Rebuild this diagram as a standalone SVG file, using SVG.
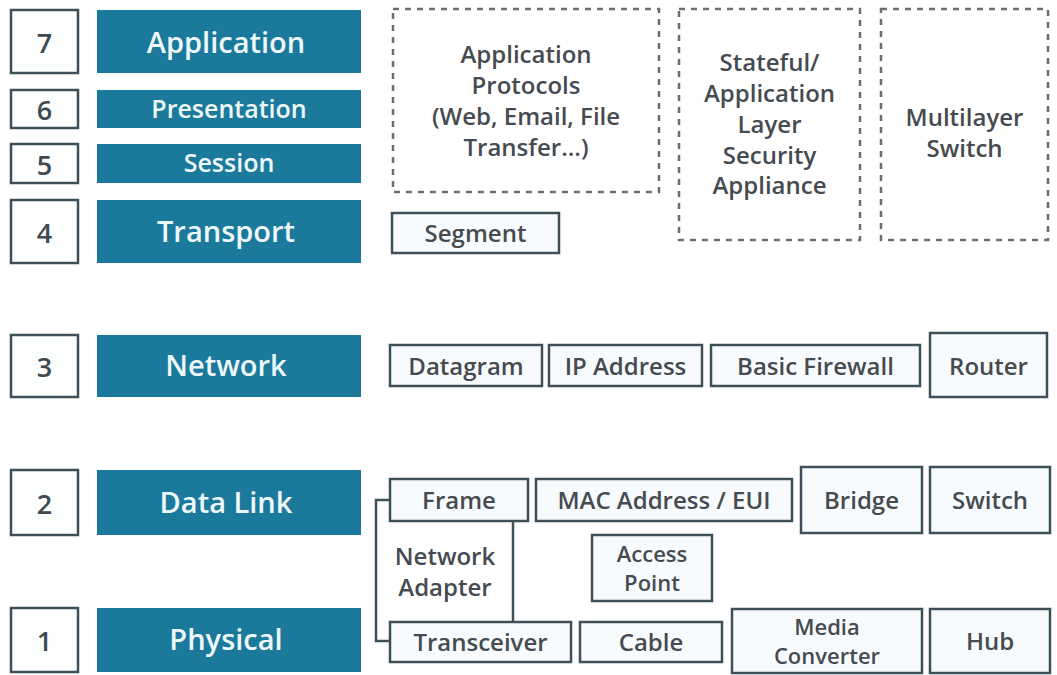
<svg xmlns="http://www.w3.org/2000/svg" width="1057" height="675" viewBox="0 0 1057 675">
<style>
text{font-family:"Open Sans","Noto Sans","Liberation Sans",sans-serif;text-anchor:middle;dominant-baseline:central}
.num rect{fill:#fdfefe;stroke:#3d4f59;stroke-width:2.5}
.num text{font-size:27px;fill:#3e4a52;font-weight:600}
.bar rect{fill:#1b7a9b}
.bar text{fill:#eef8fb;font-weight:600;font-size:29px}
.bar text.s{font-size:25px}
.box rect{fill:#f7fbfd;stroke:#3d4f59;stroke-width:2.5}
.box text,.dash text,.lbl{font-size:24px;fill:#454b50;font-weight:600}
.box text.t{font-size:22px}
.dash rect{fill:#fff;stroke:#6b6f72;stroke-width:2.5;stroke-dasharray:6 6}
.conn{fill:none;stroke:#3d4f59;stroke-width:2.5}
</style>
<rect width="1057" height="675" fill="#fff"/>
<g id="n7" class="num"><rect x="11" y="10" width="67" height="63"/><text x="44.5" y="42">7</text></g>
<g id="n6" class="num"><rect x="11" y="90" width="67" height="38"/><text x="44.5" y="109.5">6</text></g>
<g id="n5" class="num"><rect x="11" y="144" width="67" height="39"/><text x="44.5" y="164">5</text></g>
<g id="n4" class="num"><rect x="11" y="200" width="67" height="63"/><text x="44.5" y="232">4</text></g>
<g id="n3" class="num"><rect x="11" y="335" width="67" height="62"/><text x="44.5" y="366.5">3</text></g>
<g id="n2" class="num"><rect x="11" y="470" width="67" height="65"/><text x="44.5" y="503">2</text></g>
<g id="n1" class="num"><rect x="11" y="608" width="67" height="64"/><text x="44.5" y="640.5">1</text></g>

<g id="application" class="bar"><rect x="97" y="10" width="264" height="63"/><text x="226" y="41">Application</text></g>
<g id="presentation" class="bar"><rect x="97" y="90" width="264" height="38"/><text class="s" x="229" y="107.5">Presentation</text></g>
<g id="session" class="bar"><rect x="97" y="144" width="264" height="39"/><text class="s" x="229" y="161.5">Session</text></g>
<g id="transport" class="bar"><rect x="97" y="200" width="264" height="63"/><text x="226" y="230">Transport</text></g>
<g id="network" class="bar"><rect x="97" y="335" width="264" height="62"/><text x="226" y="364">Network</text></g>
<g id="datalink" class="bar"><rect x="97" y="470" width="264" height="65"/><text x="226" y="501">Data Link</text></g>
<g id="physical" class="bar"><rect x="97" y="608" width="264" height="64"/><text x="226" y="638">Physical</text></g>

<g id="app-protocols" class="dash"><rect x="393" y="9" width="266" height="183"/>
<text x="526" y="53">Application</text><text x="526" y="84">Protocols</text><text x="526" y="115">(Web, Email, File</text><text x="526" y="146">Transfer...)</text></g>
<g id="stateful" class="dash"><rect x="679" y="9" width="181" height="231"/>
<text x="769.5" y="61">Stateful/</text><text x="769.5" y="92">Application</text><text x="769.5" y="123">Layer</text><text x="769.5" y="154">Security</text><text x="769.5" y="184">Appliance</text></g>
<g id="multilayer" class="dash"><rect x="881" y="9" width="167" height="231"/>
<text x="964.5" y="116">Multilayer</text><text x="964.5" y="147">Switch</text></g>

<g id="segment" class="box"><rect x="392" y="213" width="167" height="40"/><text x="475.5" y="232">Segment</text></g>

<g id="datagram" class="box"><rect x="390" y="345" width="152" height="41"/><text x="466" y="365">Datagram</text></g>
<g id="ipaddress" class="box"><rect x="549" y="345" width="153" height="41"/><text x="625.5" y="365">IP Address</text></g>
<g id="firewall" class="box"><rect x="711" y="345" width="209" height="41"/><text x="815.5" y="365">Basic Firewall</text></g>
<g id="router" class="box"><rect x="930" y="333" width="117" height="64"/><text x="988.5" y="365">Router</text></g>

<g id="connectors">
<path class="conn" d="M390 500 H376 V641 H390"/>
<path class="conn" d="M513 521 V622"/>
</g>

<g id="frame" class="box"><rect x="390" y="479" width="138" height="42"/><text x="459" y="499">Frame</text></g>
<g id="mac" class="box"><rect x="536" y="479" width="256" height="42"/><text x="664" y="499">MAC Address / EUI</text></g>
<g id="bridge" class="box"><rect x="801" y="467" width="121" height="66"/><text x="861.5" y="499">Bridge</text></g>
<g id="switch" class="box"><rect x="930" y="467" width="120" height="66"/><text x="990" y="499">Switch</text></g>
<g id="network-adapter"><text class="lbl" x="445" y="555">Network</text><text class="lbl" x="445" y="586">Adapter</text></g>
<g id="access-point" class="box"><rect x="592" y="535" width="120" height="66"/><text class="t" x="652" y="553">Access</text><text class="t" x="652" y="582">Point</text></g>

<g id="transceiver" class="box"><rect x="390" y="622" width="181" height="40"/><text x="480.5" y="641">Transceiver</text></g>
<g id="cable" class="box"><rect x="580" y="622" width="142" height="40"/><text x="651" y="641">Cable</text></g>
<g id="media-converter" class="box"><rect x="732" y="609" width="190" height="64"/><text class="t" x="827" y="626">Media</text><text class="t" x="827" y="655">Converter</text></g>
<g id="hub" class="box"><rect x="930" y="609" width="120" height="64"/><text x="990" y="640">Hub</text></g>
</svg>
